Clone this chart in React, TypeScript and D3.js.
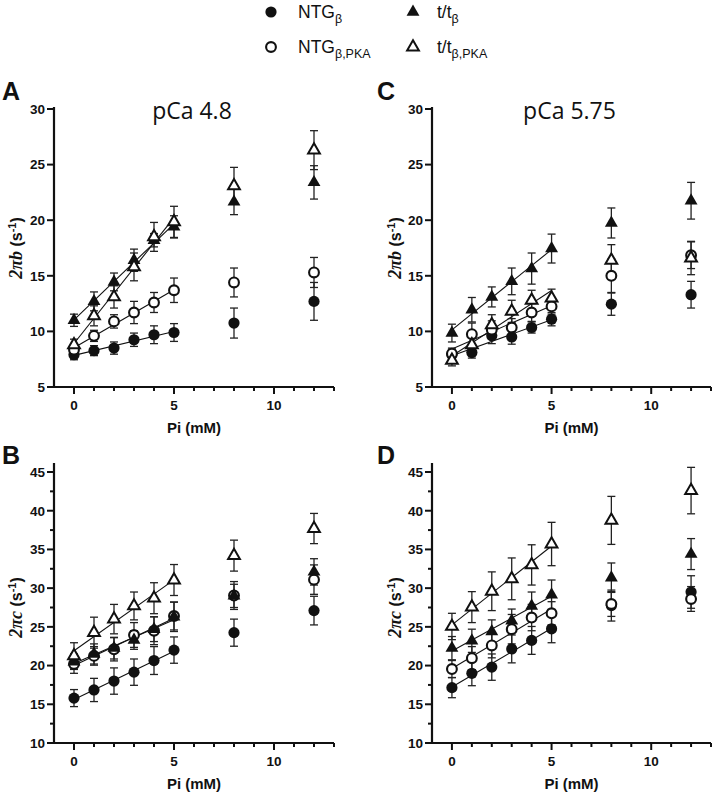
import React from "react";
import * as d3 from "d3";

// ---------- DATA ----------
const PI = [0, 1, 2, 3, 4, 5, 8, 12];
const SERIES_KINDS = ["circleFilled", "circleOpen", "triFilled", "triOpen"];
const X_TICKS = d3.range(0, 14);
const X_TICK_LABELS = [0, 5, 10];

// Panel A: 2πb, pCa 4.8
const A_NTG = [7.9, 8.27, 8.5, 9.25, 9.7, 9.9, 10.75, 12.7];
const A_NTG_ERR = [0.45, 0.45, 0.55, 0.6, 0.8, 0.8, 1.35, 1.7];
const A_NTG_PKA = [8.36, 9.6, 10.9, 11.7, 12.6, 13.7, 14.4, 15.3];
const A_NTG_PKA_ERR = [0.5, 0.5, 0.6, 1.0, 0.9, 1.1, 1.3, 1.35];
const A_TT = [11.0, 12.7, 14.45, 16.4, 18.2, 19.4, 21.65, 23.4];
const A_TT_ERR = [0.55, 0.85, 0.8, 1.0, 0.6, 1.0, 1.15, 1.5];
const A_TT_PKA = [8.8, 11.4, 13.1, 15.8, 18.5, 19.85, 23.1, 26.3];
const A_TT_PKA_ERR = [0.5, 0.9, 1.0, 1.25, 1.3, 1.4, 1.65, 1.75];

// Panel C: 2πb, pCa 5.75
const C_NTG = [7.9, 8.1, 9.6, 9.5, 10.35, 11.1, 12.45, 13.3];
const C_NTG_ERR = [0.5, 0.5, 0.7, 0.65, 0.5, 0.6, 1.0, 1.2];
const C_NTG_PKA = [8.0, 9.75, 10.15, 10.35, 11.7, 12.25, 15.0, 16.85];
const C_NTG_PKA_ERR = [0.5, 1.0, 0.8, 0.8, 0.8, 0.7, 1.5, 1.2];
const C_TT = [9.85, 11.95, 13.1, 14.5, 15.65, 17.45, 19.75, 21.75];
const C_TT_ERR = [0.8, 1.1, 0.9, 1.2, 1.4, 1.3, 1.35, 1.65];
const C_TT_PKA = [7.4, 8.8, 10.6, 11.8, 12.8, 13.0, 16.4, 16.6];
const C_TT_PKA_ERR = [0.5, 0.8, 0.9, 1.0, 0.9, 0.8, 1.4, 1.5];

// Panel B: 2πc, pCa 4.8
const B_NTG = [15.8, 16.85, 18.0, 19.15, 20.65, 22.0, 24.25, 27.1];
const B_NTG_ERR = [1.1, 1.5, 1.7, 1.7, 1.8, 1.7, 1.75, 1.85];
const B_NTG_PKA = [20.2, 21.25, 22.1, 23.95, 24.5, 26.4, 29.05, 31.1];
const B_NTG_PKA_ERR = [1.2, 1.2, 1.5, 1.6, 1.8, 1.8, 1.8, 1.9];
const B_TT = [20.5, 21.5, 22.25, 23.3, 24.7, 26.3, 29.0, 32.1];
const B_TT_ERR = [1.0, 1.3, 1.4, 1.2, 1.6, 1.9, 1.5, 1.7];
const B_TT_PKA = [21.25, 24.25, 26.0, 27.7, 28.7, 31.05, 34.2, 37.7];
const B_TT_PKA_ERR = [1.7, 2.0, 1.9, 1.8, 2.0, 2.0, 2.0, 1.95];

// Panel D: 2πc, pCa 5.75
const D_NTG = [17.15, 19.0, 19.8, 22.15, 23.25, 24.75, 27.75, 29.5];
const D_NTG_ERR = [1.3, 1.6, 1.7, 1.8, 1.8, 1.8, 2.0, 2.1];
const D_NTG_PKA = [19.55, 20.95, 22.6, 24.7, 26.2, 26.75, 27.95, 28.6];
const D_NTG_PKA_ERR = [1.1, 1.5, 1.6, 1.9, 1.7, 1.5, 1.6, 1.6];
const D_TT = [22.25, 23.2, 24.4, 25.8, 27.7, 29.15, 31.35, 34.4];
const D_TT_ERR = [1.5, 1.5, 1.5, 1.5, 1.8, 1.9, 1.9, 2.0];
const D_TT_PKA = [25.05, 27.55, 29.6, 31.2, 33.0, 35.7, 38.75, 42.6];
const D_TT_PKA_ERR = [1.7, 2.0, 2.5, 2.7, 2.6, 2.8, 3.1, 3.0];

const B_Y_TICKS = [5, 10, 15, 20, 25, 30];
const C_Y_TICKS = [10, 15, 20, 25, 30, 35, 40, 45];
const C_Y_MINOR = [12.5, 17.5, 22.5, 27.5, 32.5, 37.5, 42.5];

// ---------- LAYOUT ----------
const FONT = "Liberation Sans, Arial, sans-serif";
const INK = "#111";

type Panel = {
  letter: string;
  title?: string;
  q: string;
  values: number[][];
  errs: number[][];
  x0: number; x1: number; yTop: number; yBot: number; axisTop: number;
  yDomain: [number, number];
  yTicks: number[];
  yMinor: number[];
  letterX: number; letterY: number;
  labelX: number;
};

const panels: Panel[] = [
  {
    letter: "A", title: "pCa 4.8", q: "b",
    values: [A_NTG, A_NTG_PKA, A_TT, A_TT_PKA],
    errs: [A_NTG_ERR, A_NTG_PKA_ERR, A_TT_ERR, A_TT_PKA_ERR],
    x0: 54, x1: 334, yTop: 109, yBot: 387, axisTop: 107,
    yDomain: [5, 30], yTicks: B_Y_TICKS, yMinor: [],
    letterX: 2, letterY: 100, labelX: 22,
  },
  {
    letter: "B", q: "c",
    values: [B_NTG, B_NTG_PKA, B_TT, B_TT_PKA],
    errs: [B_NTG_ERR, B_NTG_PKA_ERR, B_TT_ERR, B_TT_PKA_ERR],
    x0: 54, x1: 334, yTop: 472, yBot: 743, axisTop: 463,
    yDomain: [10, 45], yTicks: C_Y_TICKS, yMinor: C_Y_MINOR,
    letterX: 2, letterY: 464, labelX: 22,
  },
  {
    letter: "C", title: "pCa 5.75", q: "b",
    values: [C_NTG, C_NTG_PKA, C_TT, C_TT_PKA],
    errs: [C_NTG_ERR, C_NTG_PKA_ERR, C_TT_ERR, C_TT_PKA_ERR],
    x0: 432, x1: 711, yTop: 109, yBot: 387, axisTop: 107,
    yDomain: [5, 30], yTicks: B_Y_TICKS, yMinor: [],
    letterX: 377, letterY: 100, labelX: 401,
  },
  {
    letter: "D", q: "c",
    values: [D_NTG, D_NTG_PKA, D_TT, D_TT_PKA],
    errs: [D_NTG_ERR, D_NTG_PKA_ERR, D_TT_ERR, D_TT_PKA_ERR],
    x0: 432, x1: 711, yTop: 472, yBot: 743, axisTop: 463,
    yDomain: [10, 45], yTicks: C_Y_TICKS, yMinor: C_Y_MINOR,
    letterX: 377, letterY: 464, labelX: 401,
  },
];

const triFilled = d3.symbol(d3.symbolTriangle, 72)()!;
const triOpen = d3.symbol(d3.symbolTriangle, 60)()!;

function Marker({ kind, x, y }: { kind: string; x: number; y: number }) {
  if (kind === "circleFilled") return <circle cx={x} cy={y} r={5.6} fill={INK} />;
  if (kind === "circleOpen")
    return <circle cx={x} cy={y} r={4.9} fill="#fff" stroke={INK} strokeWidth={2.1} />;
  if (kind === "triFilled")
    return <path d={triFilled} transform={`translate(${x},${y})`} fill={INK} />;
  return (
    <path d={triOpen} transform={`translate(${x},${y})`} fill="#fff" stroke={INK} strokeWidth={2} />
  );
}

function regress(xs: number[], ys: number[]) {
  const mx = d3.mean(xs)!;
  const my = d3.mean(ys)!;
  const sxy = d3.sum(xs, (x, i) => (x - mx) * (ys[i] - my));
  const sxx = d3.sum(xs, (x) => (x - mx) * (x - mx));
  const slope = sxy / sxx;
  return { slope, intercept: my - slope * mx };
}

function PanelView({ p }: { p: Panel }) {
  const xs = d3.scaleLinear().domain([-1, 13]).range([p.x0, p.x1]);
  const ys = d3.scaleLinear().domain(p.yDomain).range([p.yBot, p.yTop]);
  const fitX = PI.slice(0, 6);
  const line = d3.line<number[]>().x((d) => xs(d[0])).y((d) => ys(d[1]));
  const cx = (p.x0 + p.x1) / 2;
  const cy = (p.yTop + p.yBot) / 2;
  return (
    <g>
      <text x={p.letterX} y={p.letterY} fontFamily={FONT} fontWeight="bold" fontSize={25} fill={INK}>
        {p.letter}
      </text>
      {p.title && (
        <text x={cx - 2} y={119} textAnchor="middle" fontFamily="Open Sans, sans-serif" fontSize={23} fill={INK}>
          {p.title}
        </text>
      )}
      <line x1={p.x0} x2={p.x0} y1={p.axisTop} y2={p.yBot + 1} stroke={INK} strokeWidth={2.2} />
      <line x1={p.x0 - 1} x2={p.x1} y1={p.yBot} y2={p.yBot} stroke={INK} strokeWidth={2.2} />
      {p.yTicks.map((t) => (
        <g key={"y" + t}>
          <line x1={p.x0 - 7} x2={p.x0} y1={ys(t)} y2={ys(t)} stroke={INK} strokeWidth={2} />
          <text x={p.x0 - 9} y={ys(t)} dy="0.36em" textAnchor="end" fontFamily={FONT} fontWeight="bold" fontSize={13.5} fill={INK}>
            {t}
          </text>
        </g>
      ))}
      {p.yMinor.map((t) => (
        <line key={"ym" + t} x1={p.x0 - 4} x2={p.x0} y1={ys(t)} y2={ys(t)} stroke={INK} strokeWidth={2} />
      ))}
      {X_TICKS.map((t) => (
        <line
          key={"x" + t}
          x1={xs(t)} x2={xs(t)} y1={p.yBot}
          y2={p.yBot + (X_TICK_LABELS.includes(t) ? 7 : 4)}
          stroke={INK} strokeWidth={2}
        />
      ))}
      {X_TICK_LABELS.map((t) => (
        <text key={"xl" + t} x={xs(t)} y={p.yBot + 23} textAnchor="middle" fontFamily={FONT} fontWeight="bold" fontSize={13.5} fill={INK}>
          {t}
        </text>
      ))}
      <text x={cx} y={p.yBot + 46} textAnchor="middle" fontFamily={FONT} fontWeight="bold" fontSize={15} fill={INK}>
        Pi (mM)
      </text>
      <text transform={`translate(${p.labelX},${cy}) rotate(-90)`} textAnchor="middle" fill={INK}>
        <tspan fontFamily="Liberation Serif, Times New Roman, serif" fontStyle="italic" fontWeight="bold" fontSize={18}>
          2π{p.q}
        </tspan>
        <tspan fontFamily={FONT} fontWeight="bold" fontSize={16}> (s</tspan>
        <tspan fontFamily={FONT} fontWeight="bold" fontSize={11} dy={-6}>-1</tspan>
        <tspan fontFamily={FONT} fontWeight="bold" fontSize={16} dy={6}>)</tspan>
      </text>
      {p.values.map((vals, si) => {
        const r = regress(fitX, vals.slice(0, 6));
        const pts = [[0, r.intercept], [5, r.intercept + 5 * r.slope]];
        return <path key={"l" + si} d={line(pts) || ""} fill="none" stroke={INK} strokeWidth={1.1} />;
      })}
      {p.values.map((vals, si) =>
        vals.map((v, i) => {
          const e = p.errs[si][i];
          const x = xs(PI[i]);
          return (
            <g key={`e${si}-${i}`} stroke="#222" strokeWidth={1.3}>
              <line x1={x} x2={x} y1={ys(v - e)} y2={ys(v + e)} />
              <line x1={x - 4} x2={x + 4} y1={ys(v - e)} y2={ys(v - e)} />
              <line x1={x - 4} x2={x + 4} y1={ys(v + e)} y2={ys(v + e)} />
            </g>
          );
        })
      )}
      {p.values.map((vals, si) =>
        vals.map((v, i) => <Marker key={`m${si}-${i}`} kind={SERIES_KINDS[si]} x={xs(PI[i])} y={ys(v)} />)
      )}
    </g>
  );
}

function LegendLabel({ x, y, main, sub }: { x: number; y: number; main: string; sub: string }) {
  return (
    <text x={x} y={y} fontFamily={FONT} fontSize={17.5} fill={INK}>
      {main}
      <tspan fontSize={12.5} dy={5}>{sub}</tspan>
    </text>
  );
}

export default function App() {
  return (
    <svg
      width={714}
      height={794}
      style={{ position: "absolute", left: 0, top: 0, background: "#fff" }}
    >
      <rect width={714} height={794} fill="#fff" />
      <Marker kind="circleFilled" x={271} y={12} />
      <LegendLabel x={298} y={18} main="NTG" sub="β" />
      <Marker kind="triFilled" x={413} y={12} />
      <LegendLabel x={437} y={18} main="t/t" sub="β" />
      <Marker kind="circleOpen" x={271} y={47} />
      <LegendLabel x={298} y={53} main="NTG" sub="β,PKA" />
      <Marker kind="triOpen" x={413} y={47} />
      <LegendLabel x={437} y={53} main="t/t" sub="β,PKA" />
      {panels.map((p) => (
        <PanelView key={p.letter} p={p} />
      ))}
    </svg>
  );
}
